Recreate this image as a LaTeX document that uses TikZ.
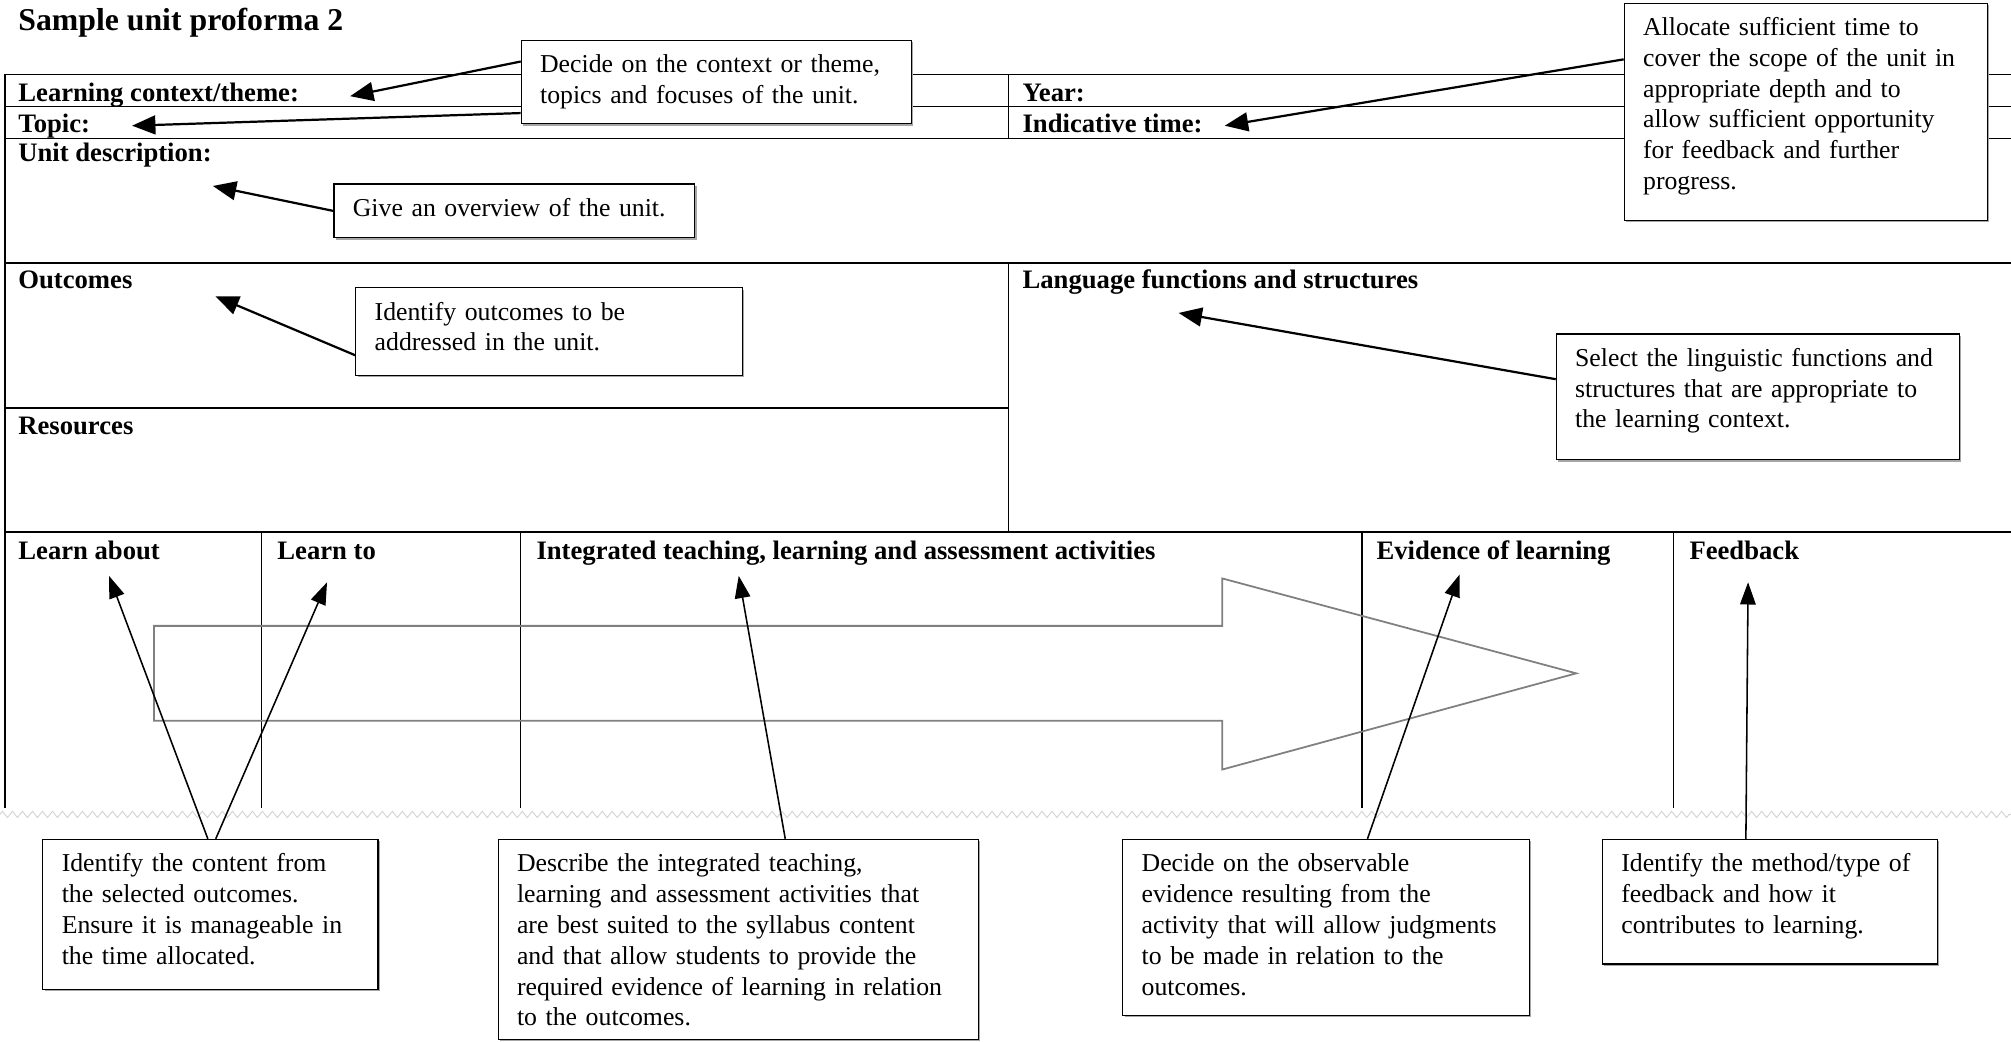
\documentclass[tikz,border=0pt]{standalone}
\usepackage{fontspec}
\setmainfont{Liberation Serif}
\usetikzlibrary{arrows.meta, shadows, decorations.pathmorphing}
\usetikzlibrary{positioning}

\begin{document}
\begin{tikzpicture}[x=0.0203cm, y=-0.0203cm,
		rule/.style={line width=0.8pt},
		colrule/.style={line width=0.5pt},
		head/.style={font=\fontsize{12}{14}\selectfont\bfseries, anchor=base west, inner sep=0pt},
		note/.style={draw, line width=0.5pt, fill=white, align=left, anchor=north west,
			font=\fontsize{11.6}{13.9}\selectfont, inner xsep=8.5pt, inner ysep=5.5pt, text height=9pt,
			drop shadow={shadow xshift=0.8pt, shadow yshift=-0.8pt, fill=gray!70, opacity=1}},
		pointer/.style={line width=1pt, -{Triangle[length=10.5pt, width=8.5pt]}},
		thinpointer/.style={line width=0.7pt, -{Triangle[length=10pt, width=7pt]}}]
				\useasboundingbox (0,0) rectangle (1568,812);

				\node[head, font=\fontsize{14.3}{16}\selectfont\bfseries] (title) at (14,24) {Sample unit proforma 2};

				\draw[rule] (4,58) -- (1568,58);
				\draw[rule] (4,83) -- (1568,83);
				\draw[rule] (4,108) -- (1568,108);
				\draw[rule] (4,205) -- (1568,205);
				\draw[rule] (4,318) -- (786,318);
				\draw[rule] (4,415) -- (1568,415);
				\draw[rule] (4,58) -- (4,630);
				\draw[colrule] (786,58) -- (786,108);
				\draw[colrule] (786,205) -- (786,415);
				\foreach \cx in {204,406,1062,1305}
					\draw[colrule] (\cx,415) -- (\cx,630);
				\draw[gray!35, line width=0.4pt, decorate, decoration={zigzag, amplitude=1.4pt, segment length=4.5pt}] (0,635) -- (1568,635);

				\node[head] (ctx) at (14,79) {Learning context/theme:};
				\node[head] (topic) at (14,103) {Topic:};
				\node[head] (year) at (797,79) {Year:};
				\node[head] (time) at (797,103) {Indicative time:};
				\node[head] (desc) at (14,126) {Unit description:};
				\node[head] (outcomes) at (14,225) {Outcomes};
				\node[head] (resources) at (14,339) {Resources};
				\node[head] (langfun) at (797,225) {Language functions and structures};
				\node[head] (learnabout) at (14,436) {Learn about};
				\node[head] (learnto) at (216,436) {Learn to};
				\node[head] (activities) at (418,436) {Integrated teaching, learning and assessment activities};
				\node[head] (evidence) at (1073,436) {Evidence of learning};
				\node[head] (feedback) at (1317,436) {Feedback};

				\draw[gray, line width=0.8pt] (120,488) -- (953,488) -- (953,451) -- (1229,525) -- (953,600) -- (953,562) -- (120,562) -- cycle;

				\coordinate (ctxpt) at (273,75);
				\coordinate (topicpt) at (103,98);
				\coordinate (timept) at (955,98);
				\coordinate (descpt) at (166,145);
				\coordinate (outpt) at (168,231);
				\coordinate (langpt) at (919,244);
				\coordinate (aboutpt) at (85,449);
				\coordinate (topt) at (255,454);
				\coordinate (actpt) at (576,449);
				\coordinate (evidpt) at (1138,448);
				\coordinate (fbpt) at (1363,454);

				\node[note, text width=158.7pt, text depth=17.6pt] (ctxnote) at (406,31) {Decide on the context or theme,\\ topics and focuses of the unit.};
				\node[note, text width=146.6pt, text depth=77.7pt] (timenote) at (1266,2) {Allocate sufficient time to\\ cover the scope of the unit in\\ appropriate depth and to\\ allow sufficient opportunity\\ for feedback and further\\ progress.};
				\node[note, text width=145.4pt, text depth=4.3pt] (descnote) at (260,143) {Give an overview of the unit.};
				\node[note, text width=157pt, text depth=19.3pt] (outnote) at (277,224) {Identify outcomes to be\\ addressed in the unit.};
				\node[note, text width=164.5pt, text depth=36.6pt] (langnote) at (1213,260) {Select the linguistic functions and\\ structures that are appropriate to\\ the learning context.};
				\node[note, text width=133.9pt, text depth=47.6pt] (contentnote) at (33,654) {Identify the content from\\ the selected outcomes.\\ Ensure it is manageable in\\ the time allocated.};
				\node[note, text width=199.2pt, text depth=70.2pt] (actnote) at (388,654) {Describe the integrated teaching,\\ learning and assessment activities that\\ are best suited to the syllabus content\\ and that allow students to provide the\\ required evidence of learning in relation\\ to the outcomes.};
				\node[note, text width=166.2pt, text depth=59.2pt] (evidnote) at (875,654) {Decide on the observable\\ evidence resulting from the\\ activity that will allow judgments\\ to be made in relation to the\\ outcomes.};
				\node[note, text width=133.9pt, text depth=36.1pt] (fbnote) at (1249,654) {Identify the method/type of\\ feedback and how it\\ contributes to learning.};

				\draw[pointer] (ctxnote.174) -- (ctxpt);
				\draw[pointer] (ctxnote.-171) -- (topicpt);
				\draw[pointer] (timenote.164) -- (timept);
				\draw[pointer] (descnote.west) -- (descpt);
				\draw[pointer] (outnote.-173) -- (outpt);
				\draw[pointer] (langnote.175) -- (langpt);
				\draw[thinpointer] (contentnote.92) -- (aboutpt);
				\draw[thinpointer] (contentnote.86) -- (topt);
				\draw[thinpointer] (actnote.65) -- (actpt);
				\draw[thinpointer] (evidnote.65) -- (evidpt);
				\draw[thinpointer] (fbnote.111) -- (fbpt);
			\end{tikzpicture}
\end{document}
